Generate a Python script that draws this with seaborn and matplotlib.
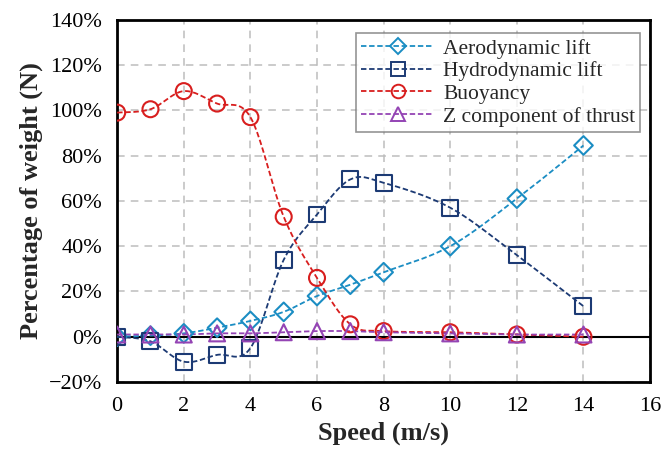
import numpy as np
import pandas as pd
import matplotlib
matplotlib.use("Agg")
import matplotlib.pyplot as plt
from matplotlib.lines import Line2D
from matplotlib.ticker import FuncFormatter, MultipleLocator
import seaborn as sns

# Vertical force components as a percentage of weight, versus speed
speed = [0, 1, 2, 3, 4, 5, 6, 7, 8, 10, 12, 14]
aero_lift = [0, 0.5, 1.5, 4, 7, 11, 18, 23, 28.5, 40, 61, 84.5]
hydro_lift = [0, -2, -11, -8, -5, 34, 54, 69.5, 68, 57, 36, 13.5]
buoyancy = [99, 100.5, 108.5, 103, 97, 53, 26, 5.5, 2.5, 2, 1, 0]
thrust_z = [1, 1, 1, 1.5, 1.5, 2, 2.5, 2.5, 2, 1.5, 1, 1]

series_names = ["Aerodynamic lift", "Hydrodynamic lift", "Buoyancy",
                "Z component of thrust"]
series_values = [aero_lift, hydro_lift, buoyancy, thrust_z]
colors = ["#1b8dc3", "#1c3a74", "#d81e1e", "#9444b4"]
markers = ["D", "s", "o", "^"]
msizes = [9.5, 11.5, 11.5, 11.5]

sns.set_theme(style="white")
plt.rcParams["font.family"] = ["Liberation Serif", "DejaVu Serif"]
plt.rcParams["mathtext.fontset"] = "stix"


def smooth_curve(x, y, n=20):
    """Catmull-Rom style smoothed path through the given points."""
    x = np.asarray(x, float)
    y = np.asarray(y, float)
    xs, ys = [], []
    for i in range(len(x) - 1):
        p0 = (x[i - 1], y[i - 1]) if i > 0 else (x[i], y[i])
        p1 = (x[i], y[i])
        p2 = (x[i + 1], y[i + 1])
        p3 = (x[i + 2], y[i + 2]) if i + 2 < len(x) else p2
        c1 = (p1[0] + (p2[0] - p0[0]) / 6, p1[1] + (p2[1] - p0[1]) / 6)
        c2 = (p2[0] - (p3[0] - p1[0]) / 6, p2[1] - (p3[1] - p1[1]) / 6)
        t = np.linspace(0, 1, n, endpoint=(i == len(x) - 2))
        for k in range(2):
            pts = (1 - t) ** 3 * p1[k] + 3 * (1 - t) ** 2 * t * c1[k] \
                + 3 * (1 - t) * t ** 2 * c2[k] + t ** 3 * p2[k]
            (xs if k == 0 else ys).append(pts)
    return np.concatenate(xs), np.concatenate(ys)


fig = plt.figure(figsize=(6.62, 4.5), dpi=100)
ax = fig.add_axes([0.177, 0.151, 0.805, 0.805])

handles = []
for name, vals, c, m, ms in zip(series_names, series_values, colors, markers, msizes):
    sx, sy = smooth_curve(speed, vals)
    ax.plot(sx, sy, color=c, lw=1.3, ls=(0, (3, 1.5)), zorder=3)
    df = pd.DataFrame({"speed": speed, "value": vals})
    sns.scatterplot(data=df, x="speed", y="value", ax=ax, marker=m,
                    s=ms ** 2, facecolor="none", edgecolor=c, linewidth=1.5,
                    zorder=4)
    handles.append(Line2D([], [], color=c, lw=1.3, ls=(0, (3, 1.5)), marker=m,
                          markersize=ms * 0.85, markerfacecolor="none",
                          markeredgecolor=c, markeredgewidth=1.4))

ax.axhline(0, color="black", lw=1.5, zorder=2)

ax.set_xlim(0, 16)
ax.set_ylim(-20, 140)
ax.xaxis.set_major_locator(MultipleLocator(2))
ax.yaxis.set_major_locator(MultipleLocator(20))
ax.yaxis.set_major_formatter(FuncFormatter(lambda v, p: f"{v:.0f}%".replace("-", "\u2212")))
ax.grid(True, color="#bdbdbd", ls=(0, (5, 4)), lw=1.1)
ax.set_axisbelow(True)
for sp in ax.spines.values():
    sp.set_color("black")
    sp.set_linewidth(2)

ax.tick_params(axis="both", labelsize=16, length=0, colors="black")
ax.tick_params(axis="y", pad=11)
ax.tick_params(axis="x", pad=11)
ax.set_xlabel("Speed (m/s)", fontsize=19, fontweight="bold", labelpad=4)
ax.set_ylabel("Percentage of weight (N)", fontsize=19, fontweight="bold", labelpad=4)

leg = ax.legend(handles, series_names, loc="upper right",
                bbox_to_anchor=(0.99, 0.975), fontsize=15.5, frameon=True,
                fancybox=False, edgecolor="#7a7a7a", handlelength=3.4,
                handletextpad=0.4, labelspacing=0.12, borderpad=0.25,
                borderaxespad=0.2)
leg.get_frame().set_linewidth(1.2)

fig.savefig("out.png", dpi=100)
